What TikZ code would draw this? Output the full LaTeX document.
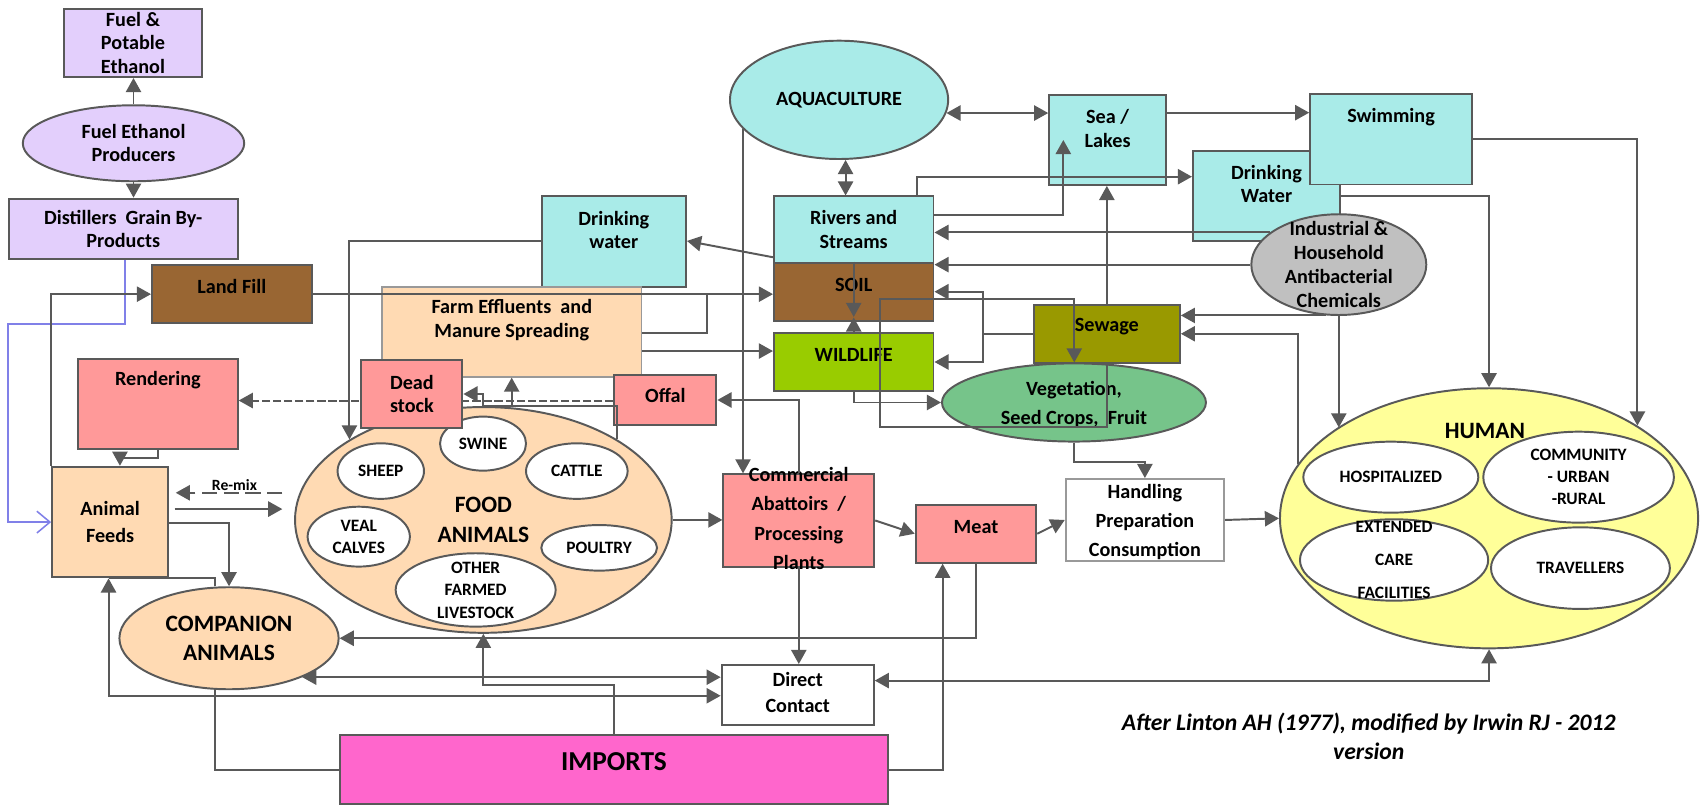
\documentclass[tikz,border=0pt]{standalone}
\usepackage{fontspec}
\setmainfont{Carlito}
\usetikzlibrary{shapes.geometric,arrows.meta,fit,backgrounds}
\definecolor{lc}{HTML}{595959}
\definecolor{purp}{HTML}{E3CFFC}
\definecolor{brn}{HTML}{996633}
\definecolor{pnk}{HTML}{FF9999}
\definecolor{pch}{HTML}{FFDAB3}
\definecolor{cyn}{HTML}{A9EBE8}
\definecolor{wld}{HTML}{99CC00}
\definecolor{sew}{HTML}{999900}
\definecolor{vegc}{HTML}{76C48A}
\definecolor{gry}{HTML}{C0C0C0}
\definecolor{hum}{HTML}{FFFF99}
\definecolor{imp}{HTML}{FF66CC}
\definecolor{blu}{HTML}{8080E8}
\definecolor{lgb}{HTML}{999999}
\begin{document}
\begin{tikzpicture}[x=0.5pt,y=-0.5pt,
  box/.style={draw=lc,line width=0.9pt,inner sep=0pt,rectangle},
  ell/.style={draw=lc,line width=0.9pt,inner sep=0pt,ellipse},
  txt/.style={font=\bfseries\fontsize{9.3pt}{#1}\selectfont,align=center,inner sep=0pt,text=black},
  txt/.default=10.75pt,
  stxt/.style={font=\bfseries\fontsize{8pt}{#1}\selectfont,align=center,inner sep=0pt,text=black},
  stxt/.default=10pt,
  btxt/.style={font=\bfseries\fontsize{10.8pt}{#1}\selectfont,align=center,inner sep=0pt,text=black},
  btxt/.default=13.5pt,
  itxt/.style={font=\bfseries\fontsize{12.6pt}{15pt}\selectfont,inner sep=0pt,text=black},
  ln/.style={draw=lc,line width=0.9pt},
  ar/.style={ln,-{Triangle[length=6.5pt,width=7pt]}},
  ar2/.style={ln,{Triangle[length=6.5pt,width=7pt]}-{Triangle[length=6.5pt,width=7pt]}},
]
\useasboundingbox (0,0) rectangle (1568,742);

% ---------- nodes ----------
\node[box,fill=purp,fit={(59,8) (186,71)},label={[txt]center:{Fuel \&\\Potable\\Ethanol}}] (fpe) {};
\node[ell,fill=purp,minimum width=102pt,minimum height=35pt,label={[txt]center:{Fuel Ethanol\\Producers}}] (fep) at (123,132) {};
\node[box,fill=purp,fit={(8,183) (219,239)},label={[txt]center:{Distillers\ \ Grain By-\\Products}}] (dist) {};
\node[box,fill=brn,fit={(140,244) (287,298)},label={[txt,yshift=3.75pt]center:Land Fill}] (land) {};
\node[box,fill=pnk,fit={(72,331) (219,414)},label={[txt,yshift=11.25pt]center:Rendering}] (rend) {};
\node[box,fill=pch,fit={(48,430) (155,532)},label={[txt=12.5pt]center:{Animal\\Feeds}}] (feeds) {};
\node[box,fill=cyn,fit={(499,181) (632,264)},label={[txt,yshift=5.35pt]center:{Drinking\\water}}] (dwl) {};
\node[box,draw=lgb,fill=pch,fit={(352,264) (591,347)},label={[txt=11pt,yshift=5.4pt]center:{Farm Effluents\ \ and\\Manure Spreading}}] (farm) {};

\node[ell,fill=pch,minimum width=173.5pt,minimum height=104pt,label={[btxt=14pt]center:{FOOD\\ANIMALS}}] (food) at (445.3,479) {};
\node[ell,fill=white,minimum width=39.6pt,minimum height=24.9pt,label={[stxt]center:SWINE}] (swine) at (445,408.7) {};
\node[ell,fill=white,minimum width=39.8pt,minimum height=25.6pt,label={[stxt]center:SHEEP}] (sheep) at (350.8,434) {};
\node[ell,fill=white,minimum width=46.8pt,minimum height=25.6pt,label={[stxt]center:CATTLE}] (cattle) at (531.4,434) {};
\node[ell,fill=white,minimum width=47.1pt,minimum height=27.6pt,label={[stxt=10pt]center:{VEAL\\CALVES}}] (veal) at (330.5,494.4) {};
\node[ell,fill=white,minimum width=53.3pt,minimum height=21pt,label={[stxt]center:POULTRY}] (poultry) at (552,504.7) {};
\node[ell,fill=white,minimum width=73.7pt,minimum height=33.8pt,label={[stxt=10.4pt]center:{OTHER\\FARMED\\LIVESTOCK}}] (other) at (438.2,543.5) {};

\node[box,fill=pnk,fit={(333,332) (426,394)},label={[txt=11pt]center:{Dead\\stock}}] (dead) {};
\node[box,fill=pnk,fit={(566,345.5) (660,391.5)},label={[txt,yshift=1.85pt]center:Offal}] (offal) {};

\node[ell,fill=cyn,minimum width=100.5pt,minimum height=54.5pt,label={[txt]center:AQUACULTURE}] (aqua) at (773,92) {};
\node[box,fill=cyn,fit={(713,181) (860,242)},label={[txt]center:{Rivers and\\Streams}}] (rivers) {};
\node[box,fill=brn,fit={(713,242) (860,295.5)},label={[txt,yshift=3.1pt]center:SOIL}] (soil) {};
\node[box,fill=wld,fit={(713,307) (860,360)},label={[txt,yshift=3.25pt]center:WILDLIFE}] (wild) {};
\node[box,fill=cyn,fit={(966.6,87.5) (1074.2,170.4)},label={[txt=11pt,yshift=5.25pt]center:{Sea /\\Lakes}}] (sea) {};
\node[box,fill=cyn,fit={(1099,139) (1234.5,222)},label={[txt,yshift=5.5pt]center:{Drinking\\Water}}] (dwr) {};
\node[box,fill=cyn,fit={(1207,87) (1356,170)},label={[txt,yshift=10.25pt]center:Swimming}] (swim) {};
\node[ell,fill=gry,minimum width=80.6pt,minimum height=46.4pt,label={[txt=11pt]center:{Industrial \&\\Household\\Antibacterial\\Chemicals}}] (indus) at (1233.4,243.8) {};
\node[box,fill=sew,fit={(952.4,281) (1087,334)},label={[txt,yshift=3.25pt]center:Sewage}] (sewage) {};
\node[ell,fill=vegc,minimum width=121.6pt,minimum height=36pt,label={[txt=13.5pt,yshift=-1pt]center:{Vegetation,\\Seed Crops,\ \ Fruit}}] (veg) at (989.4,370.8) {};

\node[box,fill=pnk,fit={(666.4,437) (805.4,522)},label={[txt=13.5pt,yshift=0.9pt]center:{Commercial\\Abattoirs\ \ /\\Processing\\Plants}}] (abat) {};
\node[box,fill=pnk,fit={(843.6,465) (954.7,518.4)},label={[txt,yshift=3pt]center:Meat}] (meat) {};
\node[box,draw=lgb,fill=white,fit={(981.8,441.3) (1127.7,516.8)},label={[txt=13.25pt,yshift=-1pt]center:{Handling\\Preparation\\Consumption}}] (hand) {};
\node[box,fill=white,fit={(664.8,612.6) (805,667.9)},label={[txt=11.85pt,yshift=1.3pt]center:{Direct\\Contact}}] (dc) {};
\node[box,fill=imp,fit={(313,677) (818.4,741)},label={[itxt,yshift=3.65pt]center:IMPORTS}] (imports) {};
\node[ell,fill=pch,minimum width=101pt,minimum height=47pt,label={[btxt=13.5pt]center:{COMPANION\\ANIMALS}}] (comp) at (211,588) {};

\node[ell,fill=hum,minimum width=192.6pt,minimum height=119.8pt] (human) at (1371.8,477.5) {};
\node[ell,fill=white,minimum width=80.6pt,minimum height=32.7pt,label={[stxt]center:HOSPITALIZED}] (hosp) at (1281.3,439.6) {};
\node[ell,fill=white,minimum width=87.8pt,minimum height=41.9pt,label={[stxt=10.15pt]center:{COMMUNITY\\- URBAN\\-RURAL}}] (comm) at (1454.3,439.6) {};
\node[ell,fill=white,minimum width=86.7pt,minimum height=37.5pt,label={[stxt=15.2pt]center:{EXTENDED\\CARE\\FACILITIES}}] (ext) at (1284.3,515.9) {};
\node[ell,fill=white,minimum width=82.4pt,minimum height=37.6pt,label={[stxt]center:TRAVELLERS}] (trav) at (1456,523.4) {};
\node[btxt] (humanT) at (1368,396.8) {HUMAN};

\node[font=\bfseries\itshape\fontsize{10.9pt}{13.5pt}\selectfont,align=center,inner sep=0pt] (cap) at (1261,678.5) {After Linton AH (1977), modified by Irwin RJ - 2012\\version};
\node[font=\bfseries\fontsize{7.2pt}{8pt}\selectfont,inner sep=0pt] (remix) at (216,446.5) {Re-mix};

% ---------- background: white page and dashed line behind Dead stock ----------
\begin{scope}[on background layer]
\fill[white] (0,0) rectangle (1568,742);
\draw[ar,dash pattern=on 3.8pt off 1.3pt] (offal.west |- 0,369) -- (rend.east |- 0,369);
\end{scope}

% ---------- connectors ----------
\draw[ar] (fep.north) -- (fep.north |- fpe.south);
\draw[ar] (fep.south) -- (fep.south |- dist.north);
\draw[draw=blu,line width=0.7pt,-{Straight Barb[length=6pt,width=10pt]}] (dist.south -| 115,0) |- (7.4,298.5) |- (feeds.west |- 0,481);
\draw[ar] (feeds.north west) |- (land.west);
\draw[ar] (rend.south) -- ++(0,7) -| (feeds.north -| 110.5,0);
\draw[ar,dash pattern=on 7pt off 3pt,shorten <=5.4pt,shorten >=3pt] (food.west |- 0,454) -- (feeds.east |- 0,454);
\draw[ar,shorten <=2.5pt,shorten >=5.4pt] (feeds.east |- 0,469) -- (food.west |- 0,469);
\draw[ar] (feeds.east |- 0,482) -| (comp.north);
\draw[ln] (comp.north -| 198,0) |- (feeds.south -| 100,0);
\draw[ar2] (feeds.south -| 100,0) |- (dc.west |- 0,641);
\draw[ar2] (comp.-28) -- (comp.-28 -| dc.west);
\draw[ar] (meat.south -| 899,0) |- (comp.east);
\draw[ln] (comp.south -| 198,0) |- (imports.west |- 0,709.4);
\draw[ar] (imports.north -| 566,0) |- (food.south |- 0,631) -- (food.south);
\draw[ar] (imports.east |- 0,709.4) -| (meat.south -| 868.4,0);
\draw[ar] (food.east) -- (food.east -| abat.west);
\draw[ar] (abat.east) -- (meat.west);
\draw[ar] (meat.east) -- (hand.west);
\draw[ar] (hand.east) -- (human.west);
\draw[ar] (abat.south) -- (abat.south |- dc.north);
\draw[ar] (abat.north) |- (offal.east);
\draw[ar] (aqua.197) -- (aqua.197 |- abat.north);
\draw[ar2] (aqua.-7) -- (aqua.-7 -| sea.west);
\draw[ar2] (aqua.south -| 779,0) -- (rivers.north -| 779,0);
\draw[ar] (rivers.east |- 0,198) -| (sea.center -| 979.6,0);
\draw[ar] (rivers.north -| 845,0) |- (dwr.west |- 0,162.8);
\draw[ar] (sea.east |- 0,103.8) -- (swim.west |- 0,103.8);
\draw[ar] (sewage.north) -- (sewage.north |- sea.south);
\draw[ar] (indus.155) -- (indus.155 -| rivers.east);
\draw[ar] (indus.west) -- (indus.west -| soil.east);
\draw[ar] (indus.256) -- (indus.256 -| sewage.east);
\draw[ar] (indus.south) -- (indus.south |- human.149);
\draw[ar] (dwr.east) -| (human.north);
\draw[ar] (swim.east) -| (human.32);
\draw[ar] (human.164) |- (sewage.east);
\draw[ar2] (human.south) |- (dc.east |- 0,627);
\draw[ar] (rivers.west |- 0,237) -- (dwl.east |- 0,222);
\draw[ar] (dwl.west |- 0,222) -| (food.149);
\draw[ar] (land.east) -- (land.east -| soil.west);
\draw[ln] (farm.east |- 0,307) -| (land.east -| 651.3,0);
\draw[ar] (farm.east |- 0,323.4) -- (wild.west |- 0,323.4);
\draw[ar] (food.north) |- (dead.east);
\draw[ar] (food.north -| 471.4,0) -- (farm.south -| 471.4,0);
\draw[ln] (food.north) -| (food.31);
\draw[ar] (soil.north) -- (soil.north |- 0,292);
\draw[ar] (wild.north) -- (wild.north |- 0,292.5);
\draw[ar] (wild.south) |- (veg.west);
\draw[ar] (sewage.west) -- (sewage.west -| 906,0) |- (soil.east);
\draw[ar] (sewage.west -| 906,0) |- (wild.east);
\draw[ar] (sewage.south) |- (810.7,393.7) |- (989.7,275.5) -- (veg.north -| 989.7,0);
\draw[ar] (veg.south) |- (hand.north |- 0,425.3) -- (hand.north);
\end{tikzpicture}
\end{document}
